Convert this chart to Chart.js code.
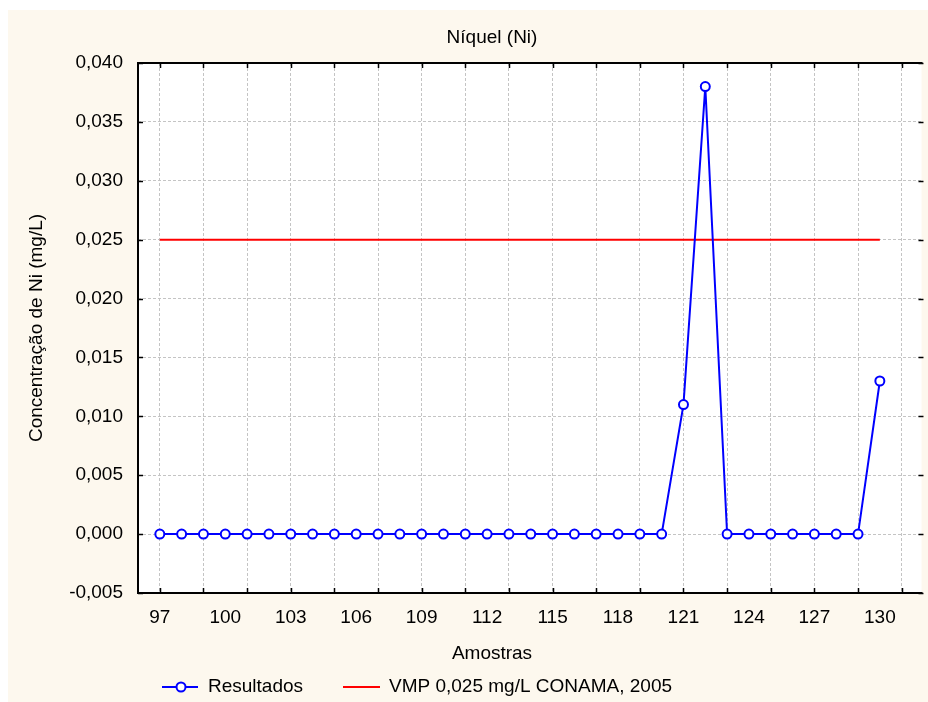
<!DOCTYPE html>
<html>
<head>
<meta charset="utf-8">
<title>Níquel (Ni)</title>
<script src="https://cdn.jsdelivr.net/npm/chart.js@4/dist/chart.umd.min.js"></script>
<style>
  html, body { margin: 0; padding: 0; background: #fff; overflow: hidden; }
  #wrap { width: 928px; height: 702px; }
</style>
</head>
<body>
<div id="wrap"><canvas id="niChart" width="928" height="702"></canvas></div>
<script>
// amostras e resultados de níquel
const amostras = [97, 98, 99, 100, 101, 102, 103, 104, 105, 106, 107, 108, 109, 110, 111, 112, 113,
                  114, 115, 116, 117, 118, 119, 120, 121, 122, 123, 124, 125, 126, 127, 128, 129, 130];
const resultados = [0, 0, 0, 0, 0, 0, 0, 0, 0, 0, 0, 0, 0, 0, 0, 0, 0,
                    0, 0, 0, 0, 0, 0, 0, 0.011, 0.038, 0, 0, 0, 0, 0, 0, 0, 0.013];
// limite VMP (CONAMA 2005)
const vmpX = [97, 130];
const vmpY = [0.025, 0.025];
const yTicks = [-0.005, 0, 0.005, 0.010, 0.015, 0.020, 0.025, 0.030, 0.035, 0.040];
// marcas/grade a cada 2 amostras, rótulos a cada 3
const xGrid = [97, 99, 101, 103, 105, 107, 109, 111, 113, 115, 117, 119, 121, 123, 125, 127, 129, 131];
const xLabels = [97, 100, 103, 106, 109, 112, 115, 118, 121, 124, 127, 130];

const FONT = "'Liberation Sans', Arial, sans-serif";
const CREAM = '#fdf8ee';
const GRID = '#c4c4c4';

function fmt(v) {
  if (Math.abs(v) < 1e-9) v = 0;
  return v.toFixed(3).replace('.', ',');
}

// fundo, moldura, marcas de escala, título e legenda
const moldura = {
  id: 'moldura',
  beforeDraw(chart) {
    const {ctx, chartArea: a} = chart;
    ctx.save();
    ctx.fillStyle = '#fff';
    ctx.fillRect(0, 0, chart.width, chart.height);
    ctx.fillStyle = CREAM;
    ctx.fillRect(8, 10, chart.width - 8, chart.height - 10);
    ctx.fillStyle = '#fff';
    ctx.fillRect(a.left, a.top, a.right - a.left, a.bottom - a.top);
    ctx.restore();
  },
  afterDraw(chart) {
    const {ctx, chartArea: a, scales: {x, y}} = chart;
    // o eixo direito fica logo além da borda do canvas
    const rightEdge = x.getPixelForValue(132);
    ctx.save();
    ctx.strokeStyle = '#000';
    ctx.lineWidth = 2;
    ctx.beginPath();
    ctx.moveTo(a.right + 1, a.top); ctx.lineTo(a.left, a.top);
    ctx.lineTo(a.left, a.bottom); ctx.lineTo(a.right + 1, a.bottom);
    ctx.stroke();

    ctx.lineWidth = 1.5;
    ctx.beginPath();
    xGrid.forEach(v => {
      const px = Math.round(x.getPixelForValue(v)) + 0.5;
      ctx.moveTo(px, a.bottom); ctx.lineTo(px, a.bottom - 5);
      ctx.moveTo(px, a.top); ctx.lineTo(px, a.top + 5);
    });
    yTicks.forEach(v => {
      const py = Math.round(y.getPixelForValue(v)) + 0.5;
      ctx.moveTo(a.left, py); ctx.lineTo(a.left + 5, py);
      ctx.moveTo(rightEdge, py); ctx.lineTo(rightEdge - 5, py);
    });
    ctx.stroke();

    ctx.fillStyle = '#000';
    ctx.font = '19px ' + FONT;
    ctx.textAlign = 'center';
    ctx.textBaseline = 'middle';
    ctx.fillText('Níquel (Ni)', 492, 38);
    ctx.fillText('Amostras', 492, 654);

    // legenda
    const ly = 687;
    const ds = chart.data.datasets;
    ctx.lineWidth = 2;
    ctx.strokeStyle = ds[0].borderColor;
    ctx.beginPath(); ctx.moveTo(162, ly); ctx.lineTo(198, ly); ctx.stroke();
    ctx.fillStyle = '#fff';
    ctx.beginPath(); ctx.arc(181, ly, 4.5, 0, Math.PI * 2); ctx.fill(); ctx.stroke();
    ctx.strokeStyle = ds[1].borderColor;
    ctx.beginPath(); ctx.moveTo(343, ly); ctx.lineTo(380, ly); ctx.stroke();
    ctx.fillStyle = '#000';
    ctx.textAlign = 'left';
    ctx.fillText(ds[0].label, 208, ly);
    ctx.fillText(ds[1].label, 389, ly);
    ctx.restore();
  }
};

new Chart(document.getElementById('niChart'), {
  type: 'line',
  data: {
    datasets: [{
      label: 'Resultados',
      data: amostras.map((a, i) => ({x: a, y: resultados[i]})),
      borderColor: '#0000ff',
      borderWidth: 2,
      pointRadius: 4.5,
      pointBorderWidth: 2,
      pointBackgroundColor: '#fff',
      pointBorderColor: '#0000ff',
      order: 0
    }, {
      label: 'VMP 0,025 mg/L CONAMA, 2005',
      data: vmpX.map((a, i) => ({x: a, y: vmpY[i]})),
      borderColor: '#ff0000',
      borderWidth: 2,
      pointRadius: 0,
      order: 1
    }]
  },
  options: {
    responsive: false,
    animation: false,
    events: [],
    layout: { padding: { left: 8, top: 63, right: 0, bottom: 0 } },
    plugins: { legend: { display: false }, title: { display: false }, tooltip: { enabled: false } },
    scales: {
      x: {
        type: 'linear',
        // 22 px por amostra; o eixo vai até 132, fora da área visível
        min: 96, max: 96 + 790 / 22,
        afterFit(s) { s.height = 109; },
        afterBuildTicks(s) {
          const vals = xGrid.concat(xLabels).filter((v, i, arr) => arr.indexOf(v) === i).sort((p, q) => p - q);
          s.ticks = vals.map(v => ({value: v}));
        },
        ticks: {
          autoSkip: false,
          maxRotation: 0,
          padding: 13,
          color: '#000',
          font: { family: FONT, size: 19 },
          callback: v => xLabels.includes(v) ? String(v) : ''
        },
        grid: {
          color: c => (c.tick && xGrid.includes(c.tick.value)) ? GRID : 'rgba(0,0,0,0)',
          lineWidth: 1,
          drawTicks: false
        },
        border: { display: false, dash: [3, 2] }
      },
      y: {
        min: -0.005, max: 0.040,
        afterFit(s) { s.width = 130; },
        afterBuildTicks(s) { s.ticks = yTicks.map(v => ({value: v})); },
        ticks: {
          padding: 15,
          color: '#000',
          font: { family: FONT, size: 19 },
          callback: v => fmt(v)
        },
        title: {
          display: true,
          text: 'Concentração de Ni (mg/L)',
          color: '#000',
          font: { family: FONT, size: 19 },
          padding: { top: 17, bottom: 0 }
        },
        grid: { color: GRID, lineWidth: 1, drawTicks: false },
        border: { display: false, dash: [3, 2] }
      }
    }
  },
  plugins: [moldura]
});
</script>
</body>
</html>
